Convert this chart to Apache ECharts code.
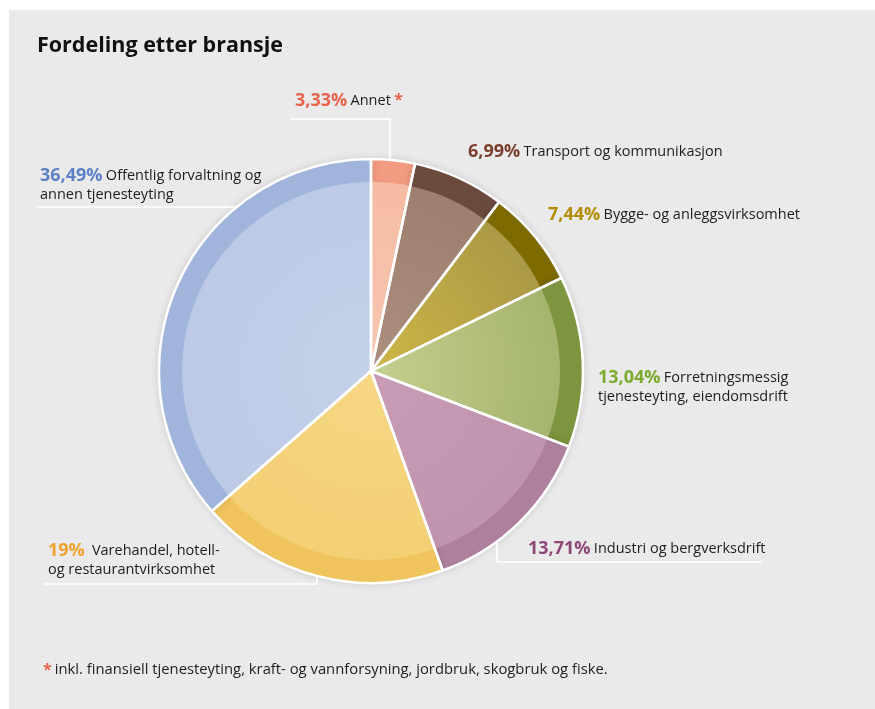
<!DOCTYPE html>
<html>
<head>
<meta charset="utf-8">
<script src="https://cdn.jsdelivr.net/npm/echarts@6/dist/echarts.min.js"></script>
<style>
  html, body { margin: 0; padding: 0; background: #ffffff; }
  #panel { position: absolute; left: 9px; top: 10px; width: 866px; height: 699px; background: #eaeaea; }
  #chart { position: absolute; left: 0; top: 0; width: 875px; height: 709px; }
</style>
</head>
<body>
<div id="panel"></div>
<div id="chart"></div>
<script>
// Sectors, clockwise from 12 o'clock
const categories = [
  'Annet',
  'Transport og kommunikasjon',
  'Bygge- og anleggsvirksomhet',
  'Forretningsmessig tjenesteyting, eiendomsdrift',
  'Industri og bergverksdrift',
  'Varehandel, hotell- og restaurantvirksomhet',
  'Offentlig forvaltning og annen tjenesteyting'
];
const shares = [3.33, 6.99, 7.44, 13.04, 13.71, 19, 36.49];

// Label text, split into the lines it is set in
const labelText = [
  ['Annet'],
  ['Transport og kommunikasjon'],
  ['Bygge- og anleggsvirksomhet'],
  ['Forretningsmessig', 'tjenesteyting, eiendomsdrift'],
  ['Industri og bergverksdrift'],
  [' Varehandel, hotell-', 'og restaurantvirksomhet'],
  ['Offentlig forvaltning og', 'annen tjenesteyting']
];
const footnote = 'inkl. finansiell tjenesteyting, kraft- og vannforsyning, jordbruk, skogbruk og fiske.';

// Colours: outer ring, inner disc (centre -> edge), percentage text
const ringColors   = ['#f29b80', '#6a4a3c', '#7d6a00', '#7e953f', '#ae809d', '#f0c45c', '#a1b5dc'];
const innerCentre  = ['#f7c6b1', '#ad8f7f', '#cdb646', '#c4d08e', '#c89cb6', '#f6d784', '#c4d1ea'];
const innerEdge    = ['#f5bca4', '#9d7f6f', '#ab9a45', '#a5b46e', '#c093ae', '#f4cf74', '#bccae6'];
const pctColors    = ['#e8634a', '#7b3f2d', '#b48c00', '#7aab2d', '#8c4777', '#f0a32e', '#5b82c6'];

// Pie geometry (px)
const CX = 371, CY = 371, R = 212, RI = 189;

// Label boxes: top-left corner of each label
const labelBoxes = [
  [295, 91], [468, 142], [548, 205], [598, 368], [528, 539], [48, 541], [40, 166]
];
// Leader lines under labels: [x0, x1, underline y, vertical x] (null = none)
const leaderLines = [
  [290, 390, 119, 390],
  null,
  null,
  null,
  [762, 497, 562, 497],
  [44, 317, 584, 317],
  [37, null, 207, null]
];

function pctText(v) { return String(v).replace('.', ',') + '%'; }

function labelFormatter(p) {
  const i = p.dataIndex;
  const lines = labelText[i];
  let s = '{p' + i + '|' + pctText(shares[i]) + '} {t|' + lines[0] + '}';
  if (i === 0) s += ' {s|*}';
  for (let k = 1; k < lines.length; k++) s += '\n{t|' + lines[k] + '}';
  return s;
}

function circleY(x, below) {
  const d = Math.sqrt(Math.max(0, R * R - (x - CX) * (x - CX)));
  return below ? CY + d : CY - d;
}
function circleX(y, left) {
  const d = Math.sqrt(Math.max(0, R * R - (y - CY) * (y - CY)));
  return left ? CX - d : CX + d;
}

function linePoints(i) {
  const l = leaderLines[i];
  if (!l) return null;
  const [x0, x1, y, vx] = l;
  if (vx === null) {
    return [[x0, y], [circleX(y, true), y]];
  }
  const below = y > CY;
  return [[x0, y], [vx, y], [vx, circleY(vx, below)]];
}

const rich = {
  t: { fontFamily: 'Open Sans', fontSize: 14.5, fontWeight: 'normal', color: '#1e1e1e', lineHeight: 19 },
  s: { fontFamily: 'Open Sans', fontSize: 16, fontWeight: 'bold', color: '#e8634a', lineHeight: 19 }
};
pctColors.forEach((c, i) => {
  rich['p' + i] = { fontFamily: 'Open Sans', fontSize: 18, fontWeight: 'bold', color: c, lineHeight: 19 };
});

const baseData = categories.map((name, i) => ({ name, value: shares[i] }));

const option = {
  animation: false,
  title: [
    {
      text: 'Fordeling etter bransje',
      left: 32, top: 30,
      textStyle: { fontFamily: 'Open Sans', fontSize: 21.5, fontWeight: 'bold', color: '#111' }
    },
    {
      text: '{s|*}{t|' + footnote + '}',
      left: 38, top: 657,
      textStyle: {
        fontWeight: 'normal',
        rich: {
          s: { fontFamily: 'Open Sans', fontSize: 16, fontWeight: 'bold', color: '#e8634a', padding: [0, 3, 0, 0] },
          t: { fontFamily: 'Open Sans', fontSize: 14.8, fontWeight: 'normal', color: '#1e1e1e' }
        }
      }
    }
  ],
  series: [
    {
      // outer ring colour (full disc)
      type: 'pie', center: [CX, CY], radius: R, startAngle: 90, silent: true,
      label: { show: false }, labelLine: { show: false },
      itemStyle: { shadowBlur: 8, shadowColor: 'rgba(0,0,0,0.18)' },
      data: baseData.map((d, i) => ({ ...d, itemStyle: { color: ringColors[i] } })),
      z: 1
    },
    {
      // lighter inner disc
      type: 'pie', center: [CX, CY], radius: RI, startAngle: 90, silent: true,
      label: { show: false }, labelLine: { show: false },
      data: baseData.map((d, i) => ({
        ...d,
        itemStyle: {
          color: {
            type: 'radial', x: CX, y: CY, r: RI, global: true,
            colorStops: [{ offset: 0, color: innerCentre[i] }, { offset: 1, color: innerEdge[i] }]
          }
        }
      })),
      z: 2
    },
    {
      // white separators, outline and labels
      type: 'pie', center: [CX, CY], radius: R, startAngle: 90, silent: true,
      avoidLabelOverlap: false,
      itemStyle: { color: 'rgba(0,0,0,0)', borderColor: '#ffffff', borderWidth: 2.5 },
      label: {
        show: true, position: 'outside', formatter: labelFormatter, rich: rich
      },
      labelLine: { show: true, smooth: false, lineStyle: { color: '#ffffff', width: 1.6 } },
      labelLayout: function (p) {
        const i = p.dataIndex;
        const res = { x: labelBoxes[i][0], y: labelBoxes[i][1], align: 'left', verticalAlign: 'top' };
        const pts = linePoints(i);
        if (pts) res.labelLinePoints = pts;
        return res;
      },
      data: baseData.map((d, i) => ({
        ...d,
        labelLine: { show: leaderLines[i] !== null }
      })),
      z: 3
    }
  ]
};

const chart = echarts.init(document.getElementById('chart'), null, { renderer: 'canvas' });
chart.setOption(option);
</script>
</body>
</html>
